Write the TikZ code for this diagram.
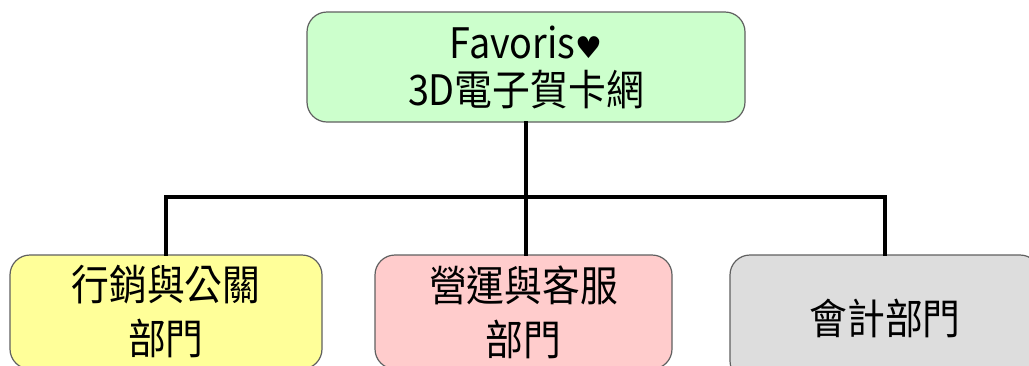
\documentclass[tikz,border=0pt]{standalone}
\usepackage{fontspec}
\setmainfont[FakeStretch=0.9]{Noto Sans CJK TC}
\newfontfamily\symfont{DejaVu Sans}
\definecolor{topgreen}{HTML}{CCFFCC}
\definecolor{yel}{HTML}{FFFF99}
\definecolor{pnk}{HTML}{FFCCCC}
\definecolor{gry}{HTML}{DDDDDD}
\definecolor{edgegray}{HTML}{606060}
\tikzset{
  box/.style={draw=edgegray, line width=1.2pt, rounded corners=20pt, align=center,
    font=\fontsize{42}{50}\selectfont, inner sep=0pt},
  conn/.style={line width=3.5pt, line cap=rect}
}
\begin{document}
\begin{tikzpicture}[x=1pt,y=-1pt]
\clip (0,0) rectangle (1029,365);
\useasboundingbox (0,0) rectangle (1029,365);
\fill[white] (0,0) rectangle (1029,365);
\node[box, fill=topgreen, minimum width=438pt, minimum height=110pt, font=\fontsize{42}{47}\selectfont] (top) at (526,67)
  {Favoris{\symfont\fontsize{30}{30}\selectfont ♥}\\3D電子賀卡網};
\node[box, fill=yel, minimum width=312pt, minimum height=114pt, font=\fontsize{42}{54}\selectfont] (left) at (166,312)
  {行銷與公關\\部門};
\node[box, fill=pnk, minimum width=297pt, minimum height=114pt, font=\fontsize{42}{54}\selectfont] (mid) at (523.5,312)
  {營運與客服\\部門};
\node[box, fill=gry, minimum width=310pt, minimum height=126pt] (right) at (885,318)
  {會計部門};
\coordinate (bus) at (526,197);
\draw[conn] (top.south) -- (bus);
\draw[conn] (bus) -| (left.north);
\draw[conn] (bus) -| (right.north);
\draw[conn] (bus) -- (bus |- mid.north);
\end{tikzpicture}
\end{document}
